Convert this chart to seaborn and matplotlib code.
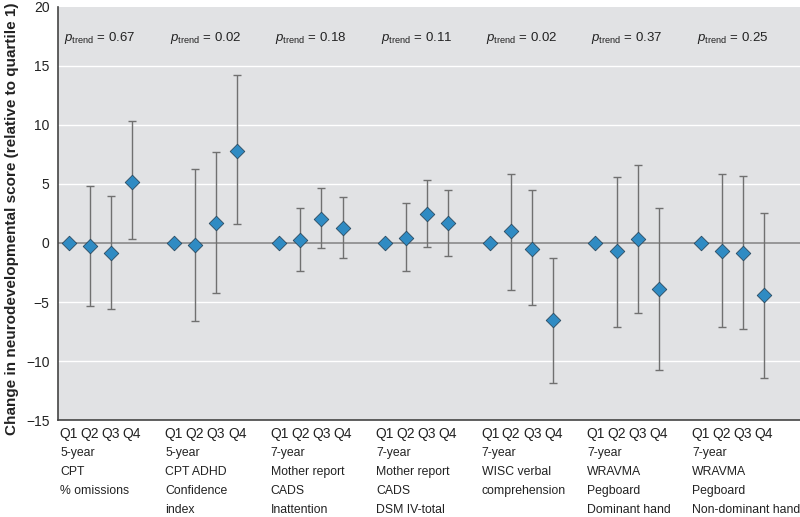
import numpy as np
import pandas as pd
import seaborn as sns
import matplotlib.pyplot as plt
from matplotlib.transforms import blended_transform_factory

# outcome groups (x-axis) and quartiles
groups = [['5-year', 'CPT', '% omissions'],
          ['5-year', 'CPT ADHD', 'Confidence', 'index'],
          ['7-year', 'Mother report', 'CADS', 'Inattention'],
          ['7-year', 'Mother report', 'CADS', 'DSM IV-total'],
          ['7-year', 'WISC verbal', 'comprehension'],
          ['7-year', 'WRAVMA', 'Pegboard', 'Dominant hand'],
          ['7-year', 'WRAVMA', 'Pegboard', 'Non-dominant hand']]
quartiles = ['Q1', 'Q2', 'Q3', 'Q4']
p_trend = ['0.67', '0.02', '0.18', '0.11', '0.02', '0.37', '0.25']

# estimates and 95% CI per group, Q1..Q4
est = [[0, -0.25, -0.87, 5.2],
       [0, -0.15, 1.67, 7.8],
       [0, 0.25, 2.03, 1.25],
       [0, 0.45, 2.43, 1.7],
       [0, 1.02, -0.5, -6.55],
       [0, -0.7, 0.34, -3.9],
       [0, -0.68, -0.87, -4.43]]
upper = [[0, 4.85, 4.0, 10.3],
         [0, 6.3, 7.7, 14.2],
         [0, 3.0, 4.7, 3.87],
         [0, 3.4, 5.3, 4.5],
         [0, 5.87, 4.46, -1.3],
         [0, 5.6, 6.6, 3.0],
         [0, 5.87, 5.7, 2.57]]
lower = [[0, -5.3, -5.6, 0.3],
         [0, -6.6, -4.26, 1.58],
         [0, -2.4, -0.45, -1.3],
         [0, -2.35, -0.36, -1.13],
         [0, -3.98, -5.25, -11.9],
         [0, -7.15, -5.93, -10.76],
         [0, -7.15, -7.26, -11.47]]

rows = []
for g in range(len(groups)):
    for q in range(4):
        rows.append({'pos': g * 5 + q, 'group': g, 'quartile': quartiles[q],
                     'est': est[g][q], 'lo': lower[g][q], 'hi': upper[g][q]})
df = pd.DataFrame(rows)

sns.set_style('ticks')
plt.rcParams['font.family'] = ['Liberation Sans', 'DejaVu Sans']
plt.rcParams['mathtext.fontset'] = 'custom'
plt.rcParams['mathtext.rm'] = 'Liberation Sans'
plt.rcParams['mathtext.it'] = 'Liberation Sans:italic'

txt = '#222222'
fig = plt.figure(figsize=(8, 5.17), dpi=100)
ax = fig.add_axes([0.0725, 0.1876, 0.93, 0.7989])
ax.set_facecolor('#e1e2e4')

for yv in [-10, -5, 5, 10, 15]:
    ax.axhline(yv, color='white', lw=1, zorder=0)
ax.axhline(0, color='#8a8a8a', lw=1.2, zorder=1)

ci = df[df['quartile'] != 'Q1']
ax.errorbar(ci['pos'], ci['est'],
            yerr=[ci['est'] - ci['lo'], ci['hi'] - ci['est']],
            fmt='none', ecolor='#707070', elinewidth=1, capsize=3, capthick=1, zorder=2)
sns.scatterplot(data=df, x='pos', y='est', marker='D', s=55, color='#2f8bc3',
                edgecolor='#2a4a60', linewidth=0.6, zorder=3, ax=ax, legend=False)

ax.set_xlim(-0.5, 34.8)
ax.set_ylim(-15, 20)
ax.set_yticks([-15, -10, -5, 0, 5, 10, 15, 20])
ax.set_yticklabels(['\u221215', '\u221210', '\u22125', '0', '5', '10', '15', '20'])
ax.set_xticks(df['pos'])
ax.set_xticklabels(df['quartile'])
ax.tick_params(axis='both', length=0, labelsize=10, colors=txt)
ax.tick_params(axis='x', pad=5)
ax.tick_params(axis='y', pad=6)
ax.set_xlabel('')
ax.set_ylabel('Change in neurodevelopmental score (relative to quartile 1)',
              fontsize=11, fontweight='bold', color=txt)
ax.yaxis.set_label_coords(-0.052, 0.487)

for side in ['top', 'right']:
    ax.spines[side].set_visible(False)
for side in ['left', 'bottom']:
    ax.spines[side].set_color('#444444')
    ax.spines[side].set_linewidth(1.2)

trans = blended_transform_factory(ax.transData, ax.transAxes)
for g, lines in enumerate(groups):
    for i, line in enumerate(lines):
        ax.text(g * 5 - 0.4, -0.08 - i * 0.046, line, transform=trans,
                ha='left', va='center', fontsize=8.8, color=txt)
    ax.text(g * 5 + 1.5, 17.4, r'$p_{\mathrm{trend}}$' + ' = ' + p_trend[g],
            ha='center', va='center', fontsize=9.5, color=txt)

fig.savefig('out.png', dpi=100)
